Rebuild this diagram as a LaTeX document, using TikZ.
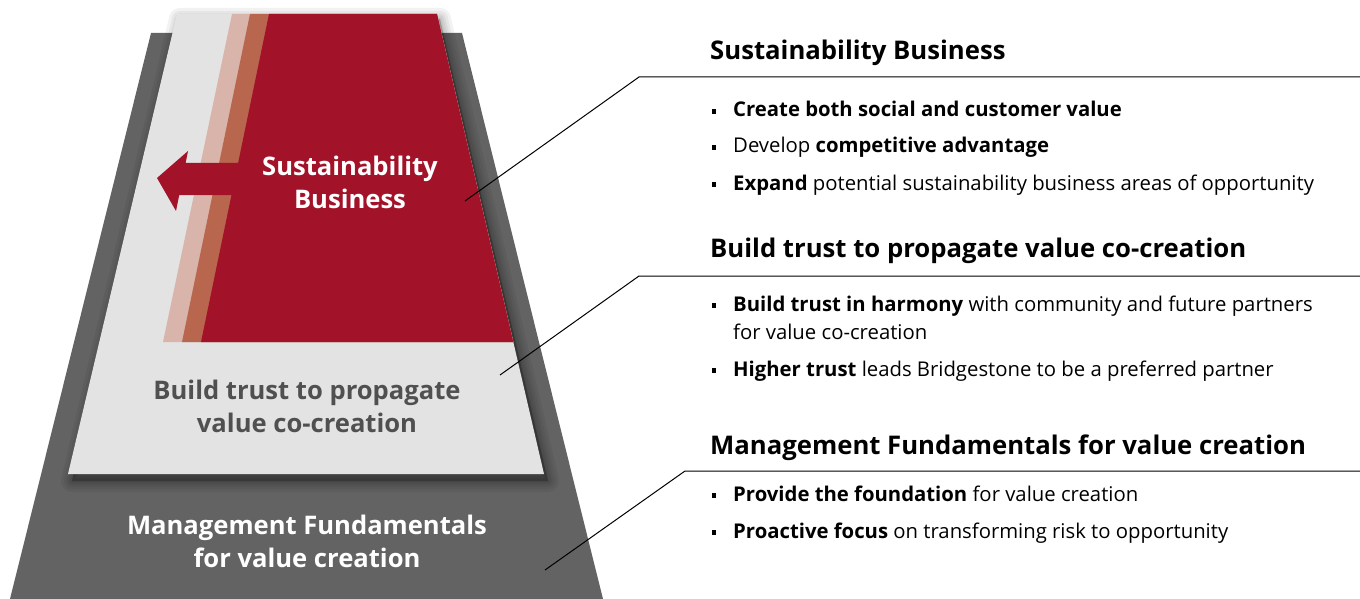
\documentclass[tikz,border=0pt]{standalone}
\usepackage{fontspec}
\setmainfont{Open Sans}
\definecolor{bsred}{RGB}{162,19,41}
\definecolor{bspink}{RGB}{217,180,171}
\definecolor{bsorange}{RGB}{185,102,79}
\definecolor{bslight}{RGB}{227,227,227}
\definecolor{bsdark}{RGB}{99,99,99}
\definecolor{bstext}{RGB}{80,80,80}
\begin{document}
\begin{tikzpicture}[x=1pt,y=-1pt,
  heading/.style={anchor=base west,inner sep=0pt,font=\fontsize{25.7}{30}\selectfont\bfseries,text=black},
  item/.style={anchor=base west,inner sep=0pt,font=\fontsize{20.3}{24}\selectfont,text=black},
  bul/.style={fill=black,minimum size=4.2pt,inner sep=0pt},
  lead/.style={draw=black,line width=1pt},
  ptext/.style={align=center,inner sep=0pt,font=\fontsize{25.6}{33}\selectfont\bfseries}]
\useasboundingbox (0,0) rectangle (1360,599);
% base layer
\fill[bsdark] (151,33) -- (462,33) -- (603,599) -- (10,599) -- cycle;
% shadow of light panel
\foreach \w in {22,16,11,7,3}
  \filldraw[black,opacity=0.05,line width=\w pt,line join=round]
    (180,19) -- (440,19) -- (548,481) -- (72,481) -- cycle;
\fill[bslight] (177,14) -- (437,14) -- (544,474) -- (68,474) -- cycle;
% strips and red
\fill[bspink] (232,14) -- (437,14) -- (513.3,342) -- (163,342) -- cycle;
\fill[bsorange] (250,14) -- (437,14) -- (513.3,342) -- (182,342) -- cycle;
\fill[bsred] (269,14) -- (437,14) -- (513.3,342) -- (201,342) -- cycle;
% arrow
\fill[bsred] (157,178) -- (188,151) -- (185.6,163) -- (260,163) -- (260,195) -- (179.2,195) -- (176,211) -- cycle;
% pyramid texts
\node[ptext,text=white] (t1) at (350,182) {Sustainability\\Business};
\node[ptext,text=bstext] (t2) at (307,406) {Build trust to propagate\\value co-creation};
\node[ptext,text=white] (t3) at (307,541) {Management Fundamentals\\for value creation};
% anchors for leaders
\coordinate (a1) at (465,201);
\coordinate (b1) at (639,77);
\coordinate (c1) at (1360,77);
\coordinate (a2) at (500,375);
\coordinate (b2) at (639,276);
\coordinate (c2) at (1360,276);
\coordinate (a3) at (545,570);
\coordinate (b3) at (685,471);
\coordinate (c3) at (1360,471);
\draw[lead] (a1) -- (b1) -- (c1);
\draw[lead] (a2) -- (b2) -- (c2);
\draw[lead] (a3) -- (b3) -- (c3);
% right texts
\node[heading] (h1) at (710,60) {Sustainability Business};
\node[heading] (h2) at (710,257) {Build trust to propagate value co-creation};
\node[heading] (h3) at (710,454) {Management Fundamentals for value creation};
\node[bul] at (714,111.5) {}; \node[item] (i11) at (733,117) {\textbf{Create both social and customer value}};
\node[bul] at (714,147.5) {}; \node[item] (i12) at (733,153) {Develop \textbf{competitive advantage}};
\node[bul] at (714,184.5) {}; \node[item] (i13) at (733,190) {\textbf{Expand} potential sustainability business areas of opportunity};
\node[bul] at (714,305.5) {}; \node[item] (i21) at (733,311) {\textbf{Build trust in harmony} with community and future partners};
\node[item] (i22) at (733,339) {for value co-creation};
\node[bul] at (714,370.5) {}; \node[item] (i23) at (733,376) {\textbf{Higher trust} leads Bridgestone to be a preferred partner};
\node[bul] at (714,495.5) {}; \node[item] (i31) at (733,501) {\textbf{Provide the foundation} for value creation};
\node[bul] at (714,532.5) {}; \node[item] (i32) at (733,538) {\textbf{Proactive focus} on transforming risk to opportunity};
\end{tikzpicture}
\end{document}
